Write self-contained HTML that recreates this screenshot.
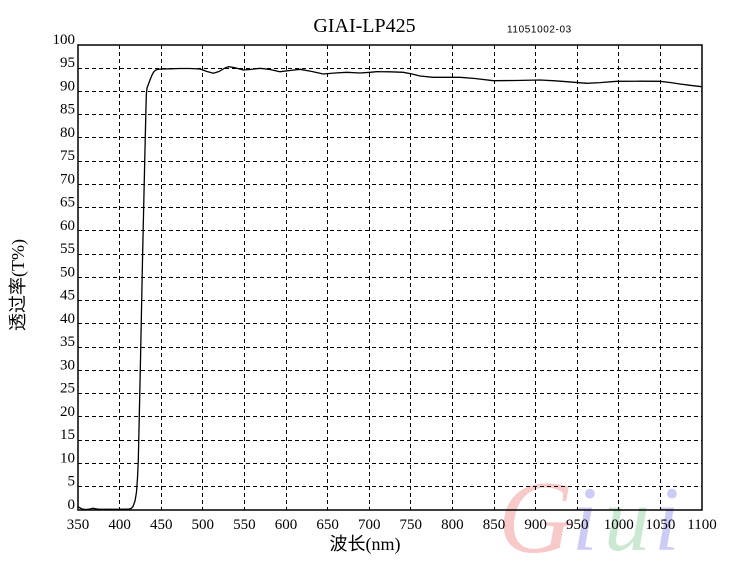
<!DOCTYPE html>
<html><head><meta charset="utf-8"><style>
html,body{margin:0;padding:0;background:#fff;}
svg{display:block;}
.t{font-family:"Liberation Serif","Noto Serif CJK SC",serif;font-size:15px;fill:#000;}
</style></head><body>
<svg width="750" height="561" viewBox="0 0 750 561" xmlns="http://www.w3.org/2000/svg">
<rect width="750" height="561" fill="#fff"/>
<!-- watermark -->
<g font-family="Liberation Serif, serif" font-style="italic" font-size="92">
<text x="498" y="552" font-size="104" fill="#f7c9c9">G</text>
<text x="572" y="550" fill="#cbcbf5">i</text>
<text x="604" y="550" fill="#cbe8d2">u</text>
<text x="654" y="550" fill="#cbcbf5">i</text>
</g>
<!-- grid -->
<g stroke="#000" stroke-width="1" stroke-dasharray="4,3" fill="none">
<path d="M119.5 45V510M161.5 45V510M202.5 45V510M244.5 45V510M286.5 45V510M327.5 45V510M369.5 45V510M410.5 45V510M452.5 45V510M494.5 45V510M535.5 45V510M577.5 45V510M618.5 45V510M660.5 45V510"/>
<path d="M78 486.5H702M78 463.5H702M78 440.5H702M78 416.5H702M78 393.5H702M78 370.5H702M78 347.5H702M78 323.5H702M78 300.5H702M78 277.5H702M78 254.5H702M78 230.5H702M78 207.5H702M78 184.5H702M78 161.5H702M78 137.5H702M78 114.5H702M78 91.5H702M78 68.5H702"/>
</g>
<rect x="78" y="45" width="624" height="465" fill="none" stroke="#000" stroke-width="1.5"/>
<!-- curve -->
<polyline fill="none" stroke="#000" stroke-width="1.3" stroke-linejoin="round" points="
78,506.7 82,509 86,509.5 90,509 93,508.3 97,509 100,509.3 115,509.3 128,509.2 131,508.5 133,506.5 135,501 136.5,492 137.5,478 138.3,460 139.2,420 140.5,360 141.5,310 142.5,260 143.5,215 144.3,180 145.2,140 145.8,115 146.3,95 147,88 148.5,84 150,80 152,75 154,71.5 156,70 158,69.3 161.7,69 170,68.8 180,68.5 190,68.5 200,69 207,71.5 213.3,73.3 219,71.5 224,68.5 228.3,66.7 234,67.5 243.3,70 250,69.5 260,68.3 270,69.5 280,71.7 290,70.5 300,69.3 312,71.5 323.3,74 335,73 346.7,72.3 360,73 370,72.3 376.7,71.7 390,71.8 403.3,72.3 412,74 420,76 433,77.3 460,77.3 475,78.5 493.3,80.7 515,80.5 540,80 555,80.8 566.7,81.7 586.7,83.3 600,82.6 616.7,81.3 640,81.2 660,81.3 670,82.5 680,84 690,85.3 701.7,86.7"/>
<!-- y tick labels -->
<g class="t" text-anchor="end">
<text x="75" y="44">100</text>
<text x="75" y="67">95</text>
<text x="75" y="90.5">90</text>
<text x="75" y="113.5">85</text>
<text x="75" y="137">80</text>
<text x="75" y="160">75</text>
<text x="75" y="183.5">70</text>
<text x="75" y="206.5">65</text>
<text x="75" y="230">60</text>
<text x="75" y="253">55</text>
<text x="75" y="276.5">50</text>
<text x="75" y="299.5">45</text>
<text x="75" y="323">40</text>
<text x="75" y="346">35</text>
<text x="75" y="369.5">30</text>
<text x="75" y="392.5">25</text>
<text x="75" y="416">20</text>
<text x="75" y="439">15</text>
<text x="75" y="462.5">10</text>
<text x="75" y="485.5">5</text>
<text x="75" y="509">0</text>
</g>
<!-- x tick labels -->
<g class="t" text-anchor="middle">
<text x="78" y="529">350</text>
<text x="119.6" y="529">400</text>
<text x="161.2" y="529">450</text>
<text x="202.8" y="529">500</text>
<text x="244.4" y="529">550</text>
<text x="286" y="529">600</text>
<text x="327.6" y="529">650</text>
<text x="369.2" y="529">700</text>
<text x="410.8" y="529">750</text>
<text x="452.4" y="529">800</text>
<text x="494" y="529">850</text>
<text x="535.6" y="529">900</text>
<text x="577.2" y="529">950</text>
<text x="618.8" y="529">1000</text>
<text x="660.4" y="529">1050</text>
<text x="702" y="529">1100</text>
</g>
<!-- titles -->
<text x="364.5" y="32" text-anchor="middle" font-family="Liberation Serif, serif" font-size="20" fill="#000">GIAI-LP425</text>
<text x="507" y="32.5" font-family="Liberation Sans, sans-serif" font-size="10" letter-spacing="0.6" fill="#000">11051002-03</text>
<text x="365" y="550" text-anchor="middle" font-family="Liberation Serif, Noto Sans CJK SC, serif" font-size="18" fill="#000">波长(nm)</text>
<text transform="translate(24,285) rotate(-90)" text-anchor="middle" font-family="Liberation Serif, Noto Sans CJK SC, serif" font-size="18" fill="#000">透过率(T%)</text>
</svg>
</body></html>
